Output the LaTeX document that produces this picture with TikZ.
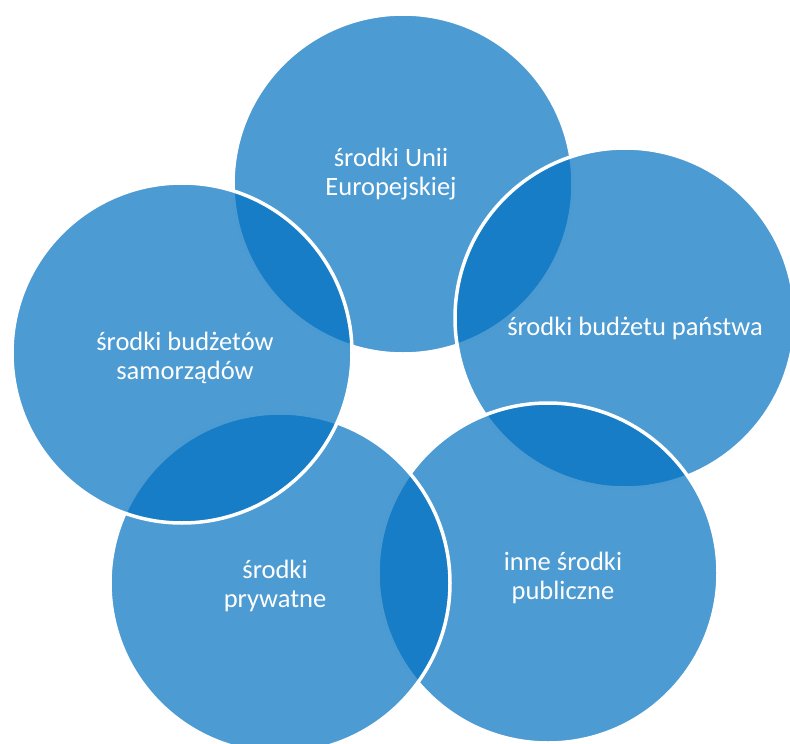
\documentclass[tikz,border=0pt]{standalone}
\usepackage{fontspec}
\setmainfont{Carlito}
\definecolor{obl}{RGB}{0,112,192}
\tikzset{
  ring/.style={circle, minimum size=340pt, inner sep=0pt, fill=obl, fill opacity=0.7, draw=white, draw opacity=1, line width=3.5pt},
  lbl/.style={text=white, align=center, inner sep=0pt, font=\fontsize{26.5}{29}\selectfont}
}
\begin{document}
\begin{tikzpicture}[x=1pt,y=-1pt]
\useasboundingbox (0,0) rectangle (790,744);
\clip (0,0) rectangle (790,744);
\node[ring] (t)  at (403,184) {};
\node[ring] (r)  at (625,318) {};
\node[ring] (br) at (548,573) {};
\node[ring] (bl) at (280,583) {};
\node[ring] (l)  at (182,353) {};
\node[lbl] (tt)  at (391,174) {środki Unii\\Europejskiej};
\node[lbl] (rt)  at (635,328) {środki budżetu państwa};
\node[lbl] (lt)  at (185,358) {środki budżetów\\samorządów};
\node[lbl] (blt) at (275,586) {środki\\prywatne};
\node[lbl] (brt) at (563,578) {inne środki\\publiczne};
\end{tikzpicture}
\end{document}
